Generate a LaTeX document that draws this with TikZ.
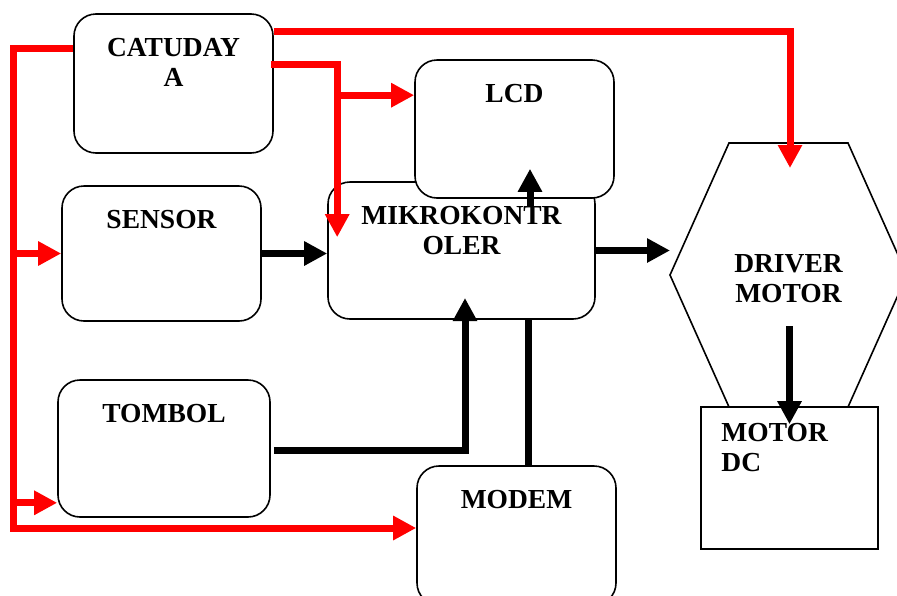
\documentclass[tikz,border=0pt]{standalone}
\usepackage{fontspec}
\setmainfont{Liberation Serif}
\usetikzlibrary{arrows.meta}

\tikzset{
  blok/.style={draw, line width=1.6pt, rounded corners=22pt, fill=white, inner sep=0pt},
  judul/.style={anchor=north, align=center, inner sep=0pt, yshift=-25pt,
    font=\fontsize{27.5}{30}\selectfont\bfseries},
  merah/.style={draw=red, line width=7pt, -{Triangle[length=23pt,width=23pt]}},
  hitam/.style={draw=black, line width=7pt, -{Triangle[length=23pt,width=23pt]}}
}

\begin{document}
\begin{tikzpicture}[x=1pt,y=-1pt]
\useasboundingbox (0,0) rectangle (897,595);

% Blocks
\node[blok, minimum width=199pt, minimum height=139pt, label={[judul]north:{CATUDAY\\A}}] (cat) at (173.5,83.5) {};
\node[blok, minimum width=199pt, minimum height=135pt, label={[judul]north:SENSOR}] (sen) at (161.5,253.5) {};
\node[blok, minimum width=267pt, minimum height=137pt, label={[judul]north:{MIKROKONTR\\OLER}}] (mik) at (461.5,250.5) {};
\node[blok, minimum width=199pt, minimum height=138pt, label={[judul]north:LCD}] (lcd) at (514.5,129) {};
\node[blok, minimum width=212pt, minimum height=137pt, label={[judul]north:TOMBOL}] (tom) at (164,448.5) {};
\node[blok, minimum width=199pt, minimum height=139pt, label={[judul]north:MODEM}] (mod) at (516.5,535.5) {};

% Driver motor (hexagon)
\draw[line width=1.6pt, fill=white] (729,143) -- (848,143) -- (907,275) -- (848,407) -- (729,407) -- (670,275) -- cycle;
\coordinate (hexkiri) at (670,275);
\node[anchor=north, align=center, inner sep=0pt, font=\fontsize{27.5}{30}\selectfont\bfseries] (drv) at (788.5,254) {DRIVER\\MOTOR};

% Motor DC
\node[blok, sharp corners, minimum width=177pt, minimum height=142pt,
  label={[judul, anchor=north west, align=left, xshift=21pt, yshift=8pt]north west:{MOTOR\\DC}}] (mdc) at (789.5,478) {};

% Power lines (red)
\draw[merah] ([yshift=-35.5pt]cat.north west) -- ++(-60,0) coordinate (bus) |- ([yshift=7.5pt]mod.west);
\draw[merah] (bus |- sen.west) -- (sen.west);
\coordinate (tomin) at ([yshift=15pt]tom.south west);
\draw[merah] (bus |- tomin) -- (tomin);
\coordinate (drvin) at (790,168);
\draw[merah] ([yshift=-18pt]cat.north east) -| (drvin);
\coordinate (mikin) at ([xshift=10pt,yshift=-56pt]mik.north west);
\draw[merah] ([xshift=-3pt,yshift=-51pt]cat.north east) -| (mikin);
\coordinate (lcdin) at ([yshift=-36pt]lcd.north west);
\draw[merah] (lcdin -| mikin) -- (lcdin);

% Signal lines (black)
\draw[hitam] (sen.east) -- (sen.east -| mik.west);
\draw[hitam] (mik.east) -- (mik.east -| hexkiri);
\draw[hitam] ([xshift=68.5pt,yshift=-25pt]mik.north) -- ([xshift=15.5pt,yshift=30pt]lcd.south);
\coordinate (tomout) at (465,298);
\draw[hitam] ([xshift=3pt,yshift=-1.5pt]tom.east) -| (tomout);
\draw[line width=7pt] ([xshift=11.5pt]mod.north) -- ([xshift=11.5pt]mod.north |- mik.south);
\draw[hitam] ([yshift=80pt]mdc.north) -- ([yshift=-18pt]mdc.north);

\end{tikzpicture}
\end{document}
